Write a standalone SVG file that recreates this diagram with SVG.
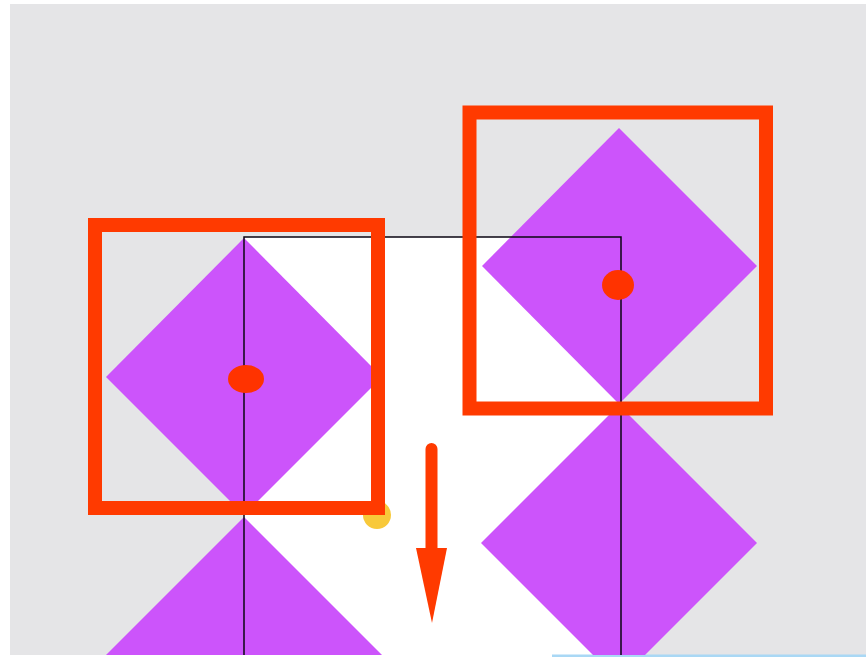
<svg xmlns="http://www.w3.org/2000/svg" width="866" height="657" viewBox="0 0 866 657">
<style>
.dia{fill:#cc54fb}
.frame{fill:none;stroke:#ff3a00;stroke-width:14}
.dot{fill:#ff3300}
.conn{fill:none;stroke:#0a0512;stroke-width:1.5}
</style>
<defs>
<clipPath id="clip"><rect x="10" y="4" width="856" height="651"/></clipPath>
</defs>
<rect x="0" y="0" width="866" height="657" fill="#ffffff"/>
<rect x="10" y="4" width="856" height="651" fill="#e5e5e7"/>
<rect x="244" y="237" width="377" height="418" fill="#ffffff"/>
<rect x="552" y="654.5" width="314" height="2.5" fill="#a9d8f5"/>
<g clip-path="url(#clip)">
<g id="yellow-dot"><circle cx="377" cy="515" r="14" fill="#f8c93a"/></g>
<g id="diamond-left-1"><polygon class="dia" points="244,238 382,377 244,515 106,377"/></g>
<g id="diamond-left-2"><polygon class="dia" points="244,517 382,655 244,793 106,655"/></g>
<g id="diamond-right-1"><polygon class="dia" points="619,128 757,266 619,404 482,266"/></g>
<g id="diamond-right-2"><polygon class="dia" points="619,405 757,543 619,681 481,543"/></g>
<g id="connectors">
<path class="conn" d="M244,655 V237 H621 V655"/>
</g>
<g id="frame-left"><rect class="frame" x="95" y="225" width="283" height="283"/></g>
<g id="frame-right"><rect class="frame" x="469.5" y="112.5" width="296.5" height="296"/></g>
<g id="dot-left"><ellipse class="dot" cx="246" cy="379" rx="18" ry="14"/></g>
<g id="dot-right"><ellipse class="dot" cx="618" cy="285" rx="16" ry="15"/></g>
<g id="arrow">
<line x1="431.5" y1="449" x2="431.5" y2="552" stroke="#ff3a00" stroke-width="12" stroke-linecap="round"/>
<polygon points="416,548 447,548 432,623" fill="#ff3a00"/>
</g>
</g>
</svg>
